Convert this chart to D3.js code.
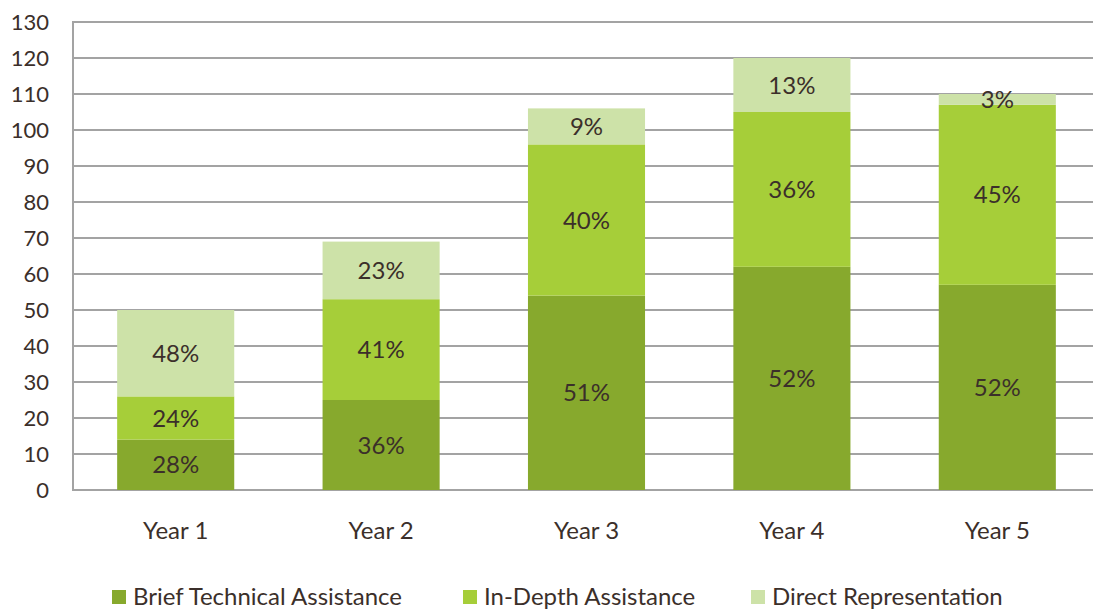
<!DOCTYPE html>
<html>
<head>
<meta charset="utf-8">
<script src="https://cdn.jsdelivr.net/npm/d3@7"></script>
<style>
  html, body { margin: 0; padding: 0; background: #fff; }
  svg { display: block; font-family: Lato, "Open Sans", sans-serif; }
</style>
</head>
<body>
<svg id="chart" width="1093" height="612"></svg>
<script>
const categories = ["Year 1", "Year 2", "Year 3", "Year 4", "Year 5"];
const seriesNames = ["Brief Technical Assistance", "In-Depth Assistance", "Direct Representation"];
const briefValues = [14, 25, 54, 62, 57];
const inDepthValues = [12, 28, 42, 43, 50];
const directValues = [24, 16, 10, 15, 3];
const briefLabels = ["28%", "36%", "51%", "52%", "52%"];
const inDepthLabels = ["24%", "41%", "40%", "36%", "45%"];
const directLabels = ["48%", "23%", "9%", "13%", "3%"];
const yTicks = [0, 10, 20, 30, 40, 50, 60, 70, 80, 90, 100, 110, 120, 130];
const colors = ["#87a92d", "#a6ce39", "#cde2a8"];

(function () {
const svg = d3.select("#chart");
const mLeft = 73, mRight = 1100, mTop = 22, mBottom = 490;
const textColor = "#3b2f2a";

const x = d3.scaleBand().domain(categories).range([mLeft, mRight]).paddingInner(0.43).paddingOuter(0.215);
const y = d3.scaleLinear().domain([0, 130]).range([mBottom, mTop]);

// gridlines
svg.append("g").selectAll("line").data(yTicks).join("line")
  .attr("x1", mLeft).attr("x2", 1093)
  .attr("y1", d => y(d)).attr("y2", d => y(d))
  .attr("stroke", "#a3a3a3").attr("stroke-width", 2);

// left axis line
svg.append("line").attr("x1", mLeft).attr("x2", mLeft).attr("y1", mTop - 1).attr("y2", mBottom + 1)
  .attr("stroke", "#a3a3a3").attr("stroke-width", 2);

// y labels
svg.append("g").selectAll("text").data(yTicks).join("text")
  .attr("x", 49).attr("y", d => y(d) + 8)
  .attr("text-anchor", "end").attr("font-size", 22).attr("fill", textColor)
  .text(d => d);

// stacked data
const rows = categories.map((c, i) => ({ cat: c, s0: briefValues[i], s1: inDepthValues[i], s2: directValues[i] }));
const stack = d3.stack().keys(["s0", "s1", "s2"])(rows);
const labelSets = [briefLabels, inDepthLabels, directLabels];

stack.forEach((layer, li) => {
  svg.append("g").selectAll("rect").data(layer).join("rect")
    .attr("x", d => x(d.data.cat))
    .attr("width", x.bandwidth())
    .attr("y", d => y(d[1]))
    .attr("height", d => y(d[0]) - y(d[1]))
    .attr("fill", colors[li]);
});
stack.forEach((layer, li) => {
  svg.append("g").selectAll("text").data(layer).join("text")
    .attr("x", d => x(d.data.cat) + x.bandwidth() / 2)
    .attr("y", d => y((d[0] + d[1]) / 2) + 8.5)
    .attr("text-anchor", "middle").attr("font-size", 24).attr("fill", textColor)
    .text((d, i) => labelSets[li][i]);
});

// x labels
svg.append("g").selectAll("text").data(categories).join("text")
  .attr("x", d => x(d) + x.bandwidth() / 2)
  .attr("y", 539)
  .attr("text-anchor", "middle").attr("font-size", 24).attr("fill", textColor)
  .text(d => d);

// legend
const legendX = [112, 463, 751];
const lg = svg.append("g");
seriesNames.forEach((name, i) => {
  lg.append("rect").attr("x", legendX[i]).attr("y", 590).attr("width", 14).attr("height", 14).attr("fill", colors[i]);
  lg.append("text").attr("x", legendX[i] + 21).attr("y", 605)
    .attr("font-size", 24).attr("fill", textColor).text(name);
});
})();
</script>
</body>
</html>
